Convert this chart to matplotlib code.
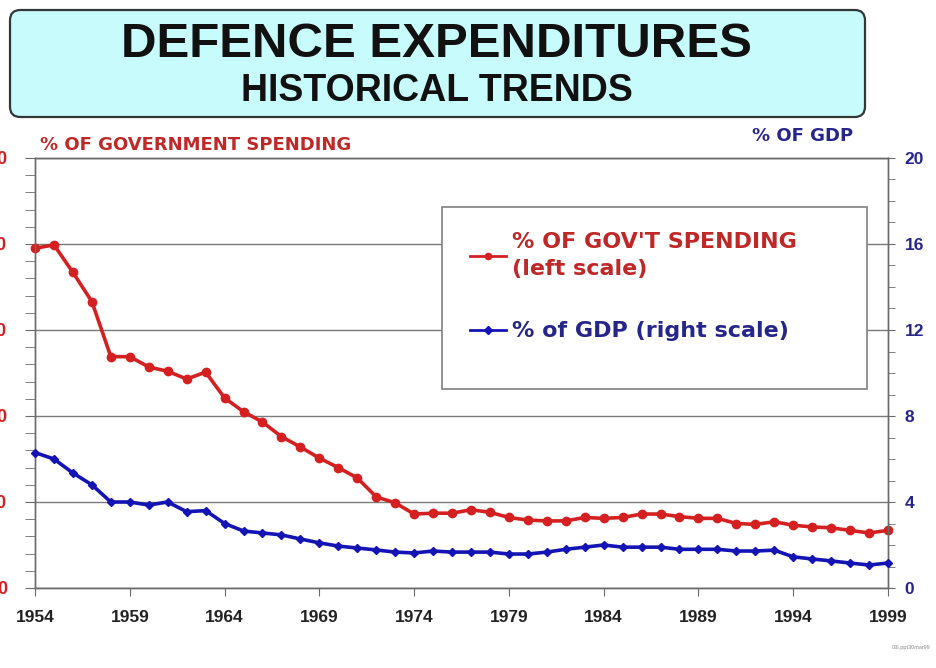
import matplotlib
matplotlib.use("Agg")
import matplotlib.pyplot as plt
from matplotlib.patches import FancyBboxPatch, Rectangle
from matplotlib.lines import Line2D
from matplotlib.ticker import MultipleLocator

plt.rcParams['font.family'] = ['Liberation Sans', 'DejaVu Sans']
plt.rcParams['font.weight'] = 'bold'

# data
years = list(range(1954, 2000))
gov_spending = [39.5, 39.9, 36.7, 33.3, 26.9, 26.9, 25.7, 25.2, 24.3, 25.1,
                22.1, 20.5, 19.3, 17.6, 16.4, 15.1, 14.0, 12.8, 10.6, 9.9,
                8.6, 8.7, 8.7, 9.1, 8.8, 8.2, 7.9, 7.8, 7.8, 8.2,
                8.1, 8.2, 8.6, 8.6, 8.3, 8.1, 8.1, 7.5, 7.4, 7.7,
                7.3, 7.1, 7.0, 6.7, 6.4, 6.7]
pct_gdp = [6.3, 6.0, 5.35, 4.8, 4.0, 4.0, 3.86, 4.0, 3.55, 3.6,
           3.0, 2.65, 2.56, 2.47, 2.28, 2.1, 1.95, 1.86, 1.77, 1.67,
           1.63, 1.72, 1.67, 1.67, 1.67, 1.58, 1.58, 1.67, 1.8, 1.9,
           2.0, 1.9, 1.9, 1.9, 1.8, 1.8, 1.8, 1.72, 1.72, 1.76,
           1.45, 1.35, 1.26, 1.16, 1.07, 1.16]

left_ticks = [0, 10, 20, 30, 40, 50]
right_ticks = [0, 4, 8, 12, 16, 20]
year_ticks = list(range(1954, 2000, 5))

red = '#d42020'
red_txt = '#c02828'
blue = '#1414b4'
blue_txt = '#26268a'

fig = plt.figure(figsize=(9.37, 6.68), dpi=100)
fig.patch.set_facecolor('white')

# title box
box = FancyBboxPatch((10 / 937, 1 - 117 / 668), 855 / 937, 107 / 668,
                     boxstyle='round,pad=0,rounding_size=0.011',
                     mutation_aspect=937 / 668, transform=fig.transFigure,
                     facecolor='#c8fbfb', edgecolor='#303838', linewidth=1.6)
fig.patches.append(box)
fig.text(0.466, 0.933, 'DEFENCE EXPENDITURES', ha='center', va='center',
         fontsize=35.5, fontweight='bold', color='#111111')
fig.text(0.466, 0.864, 'HISTORICAL TRENDS', ha='center', va='center',
         fontsize=27, fontweight='bold', color='#111111')

ax = fig.add_axes([35 / 937, 80 / 668, 853 / 937, 430 / 668])
ax2 = ax.twinx()

ax.plot(years, gov_spending, color=red, lw=2.6, marker='o', ms=6,
        clip_on=False, zorder=3)
ax2.plot(years, pct_gdp, color=blue, lw=2.6, marker='D', ms=4.5,
         clip_on=False, zorder=3)

ax.set_xlim(1954, 1999)
ax.set_ylim(0, 50)
ax2.set_ylim(0, 20)

ax.set_xticks(year_ticks)
ax.set_xticklabels([str(y) for y in year_ticks])
ax.set_yticks(left_ticks)
ax.set_yticklabels([str(v) for v in left_ticks])
ax.yaxis.set_minor_locator(MultipleLocator(2))
ax2.set_yticks(right_ticks)
ax2.set_yticklabels([str(v) for v in right_ticks])
ax2.yaxis.set_minor_locator(MultipleLocator(1))

ax.grid(axis='y', color='#7a7a7a', lw=1)
ax.set_axisbelow(True)
for a in (ax, ax2):
    for s in a.spines.values():
        s.set_color('#6a6a6a')
        s.set_linewidth(1)

ax.tick_params(axis='x', direction='out', length=6, color='#6a6a6a',
               labelsize=12.5, pad=10, labelcolor='#222222')
ax.tick_params(axis='y', which='both', direction='out', length=7,
               color='#6a6a6a', labelsize=13, pad=13, labelcolor=red)
ax2.tick_params(axis='y', which='both', direction='out', length=5,
                color='#6a6a6a', labelsize=12.5, pad=7, labelcolor=blue_txt)

fig.text(40 / 937, 0.783, '% OF GOVERNMENT SPENDING', ha='left', va='center',
         fontsize=13, fontweight='bold', color=red_txt, family='DejaVu Sans')
fig.text(803 / 937, 0.796, '% OF GDP', ha='center', va='center',
         fontsize=13, fontweight='bold', color=blue_txt, family='DejaVu Sans')

# legend box
fig.patches.append(Rectangle((442 / 937, 1 - 389 / 668), 425 / 937, 182 / 668,
                             transform=fig.transFigure, facecolor='white',
                             edgecolor='#808080', linewidth=1.2, zorder=5))
handles = [Line2D([], [], color=red, lw=2, marker='o', ms=4.5),
           Line2D([], [], color=blue, lw=2, marker='D', ms=4)]
leg = fig.legend(handles, ["% OF GOV'T SPENDING\n(left scale)",
                           '% of GDP (right scale)'],
                 loc='upper left', bbox_to_anchor=(450 / 937, 1 - 212 / 668),
                 bbox_transform=fig.transFigure, frameon=False,
                 prop={'size': 16, 'weight': 'bold', 'family': 'DejaVu Sans'},
                 handlelength=1.6, handletextpad=0.3, labelspacing=1.9)
for t, c in zip(leg.get_texts(), [red_txt, blue_txt]):
    t.set_color(c)
    t.set_linespacing(1.45)
leg.set_zorder(6)

fig.text(930 / 937, 1 - 648 / 668, '03I.ppt30mar99', ha='right', va='center',
         fontsize=4, color='#888888', fontweight='normal')

fig.savefig('out.png', dpi=100)
